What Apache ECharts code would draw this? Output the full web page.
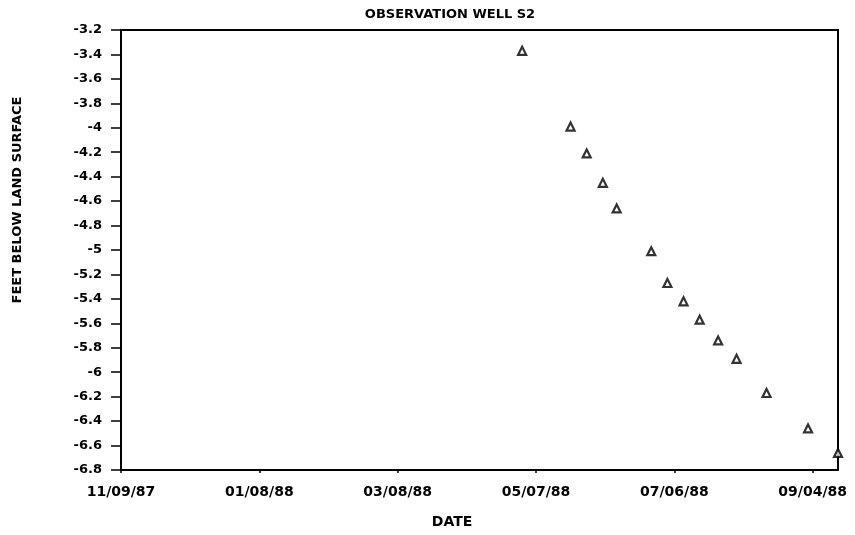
<!DOCTYPE html>
<html>
<head>
<meta charset="utf-8">
<script src="https://cdn.jsdelivr.net/npm/echarts@6/dist/echarts.min.js"></script>
<style>
html,body{margin:0;padding:0;background:#fff;}
#chart{width:855px;height:535px;}
</style>
</head>
<body>
<div id="chart"></div>
<script>
// ---- data ----
var startDate = '1987-11-09';
var dates = ['1988-05-01','1988-05-22','1988-05-29','1988-06-05','1988-06-11','1988-06-26','1988-07-03','1988-07-10','1988-07-17','1988-07-25','1988-08-02','1988-08-15','1988-09-02','1988-09-15'];
var levels = [-3.37,-3.99,-4.21,-4.45,-4.66,-5.01,-5.27,-5.42,-5.57,-5.74,-5.89,-6.17,-6.46,-6.66];
var xTickLabels = ['11/09/87','01/08/88','03/08/88','05/07/88','07/06/88','09/04/88'];
var titleText = 'OBSERVATION WELL S2';
var xTitle = 'DATE';
var yTitle = 'FEET BELOW LAND SURFACE';

var DAY = 86400000;
function dayNum(s){ return Math.round((Date.parse(s+'T00:00:00Z') - Date.parse(startDate+'T00:00:00Z'))/DAY); }
var points = dates.map(function(d,i){ return [dayNum(d), levels[i]]; });

var FONT = 'DejaVu Sans';
var chart = echarts.init(document.getElementById('chart'), null, {renderer:'canvas'});
chart.setOption({
  backgroundColor:'#fff',
  animation:false,
  grid:{left:121, right:17, top:30, bottom:65, show:true, borderColor:'#000', borderWidth:2, backgroundColor:'transparent'},
  xAxis:{
    type:'value', min:0, max:311, interval:60,
    axisLine:{lineStyle:{color:'#000', width:2}},
    axisTick:{show:true, length:3, lineStyle:{color:'#000', width:1.5}},
    splitLine:{show:false},
    axisLabel:{color:'#000', fontFamily:FONT, fontWeight:'bold', fontSize:14, margin:15,
      showMaxLabel:false,
      formatter:function(v){ var i=Math.round(v/60); return xTickLabels[i]||''; }}
  },
  yAxis:{
    type:'value', min:-6.8, max:-3.2, interval:0.2,
    axisLine:{lineStyle:{color:'#000', width:2}},
    axisTick:{show:true, length:10, lineStyle:{color:'#000', width:1.5}},
    splitLine:{show:false},
    axisLabel:{color:'#000', fontFamily:FONT, fontWeight:'bold', fontSize:13, margin:19,
      formatter:function(v){ return String(Math.round(v*10)/10); }}
  },
  graphic:[
    {type:'text', x:450, y:15, style:{text:titleText, textAlign:'center', textVerticalAlign:'middle', fill:'#000', font:'bold 13px "DejaVu Sans"'}},
    {type:'text', x:452, y:522, style:{text:xTitle, textAlign:'center', textVerticalAlign:'middle', fill:'#000', font:'bold 14px "DejaVu Sans"'}},
    {type:'text', x:18, y:200, rotation:Math.PI/2, style:{text:yTitle, textAlign:'center', textVerticalAlign:'middle', fill:'#000', font:'bold 13px "DejaVu Sans"'}}
  ],
  series:[{
    type:'scatter',
    data:points,
    symbol:'triangle',
    symbolSize:8,
    itemStyle:{color:'#fff', borderColor:'#000', borderWidth:2.2},
    clip:false
  }]
});
</script>
</body>
</html>
